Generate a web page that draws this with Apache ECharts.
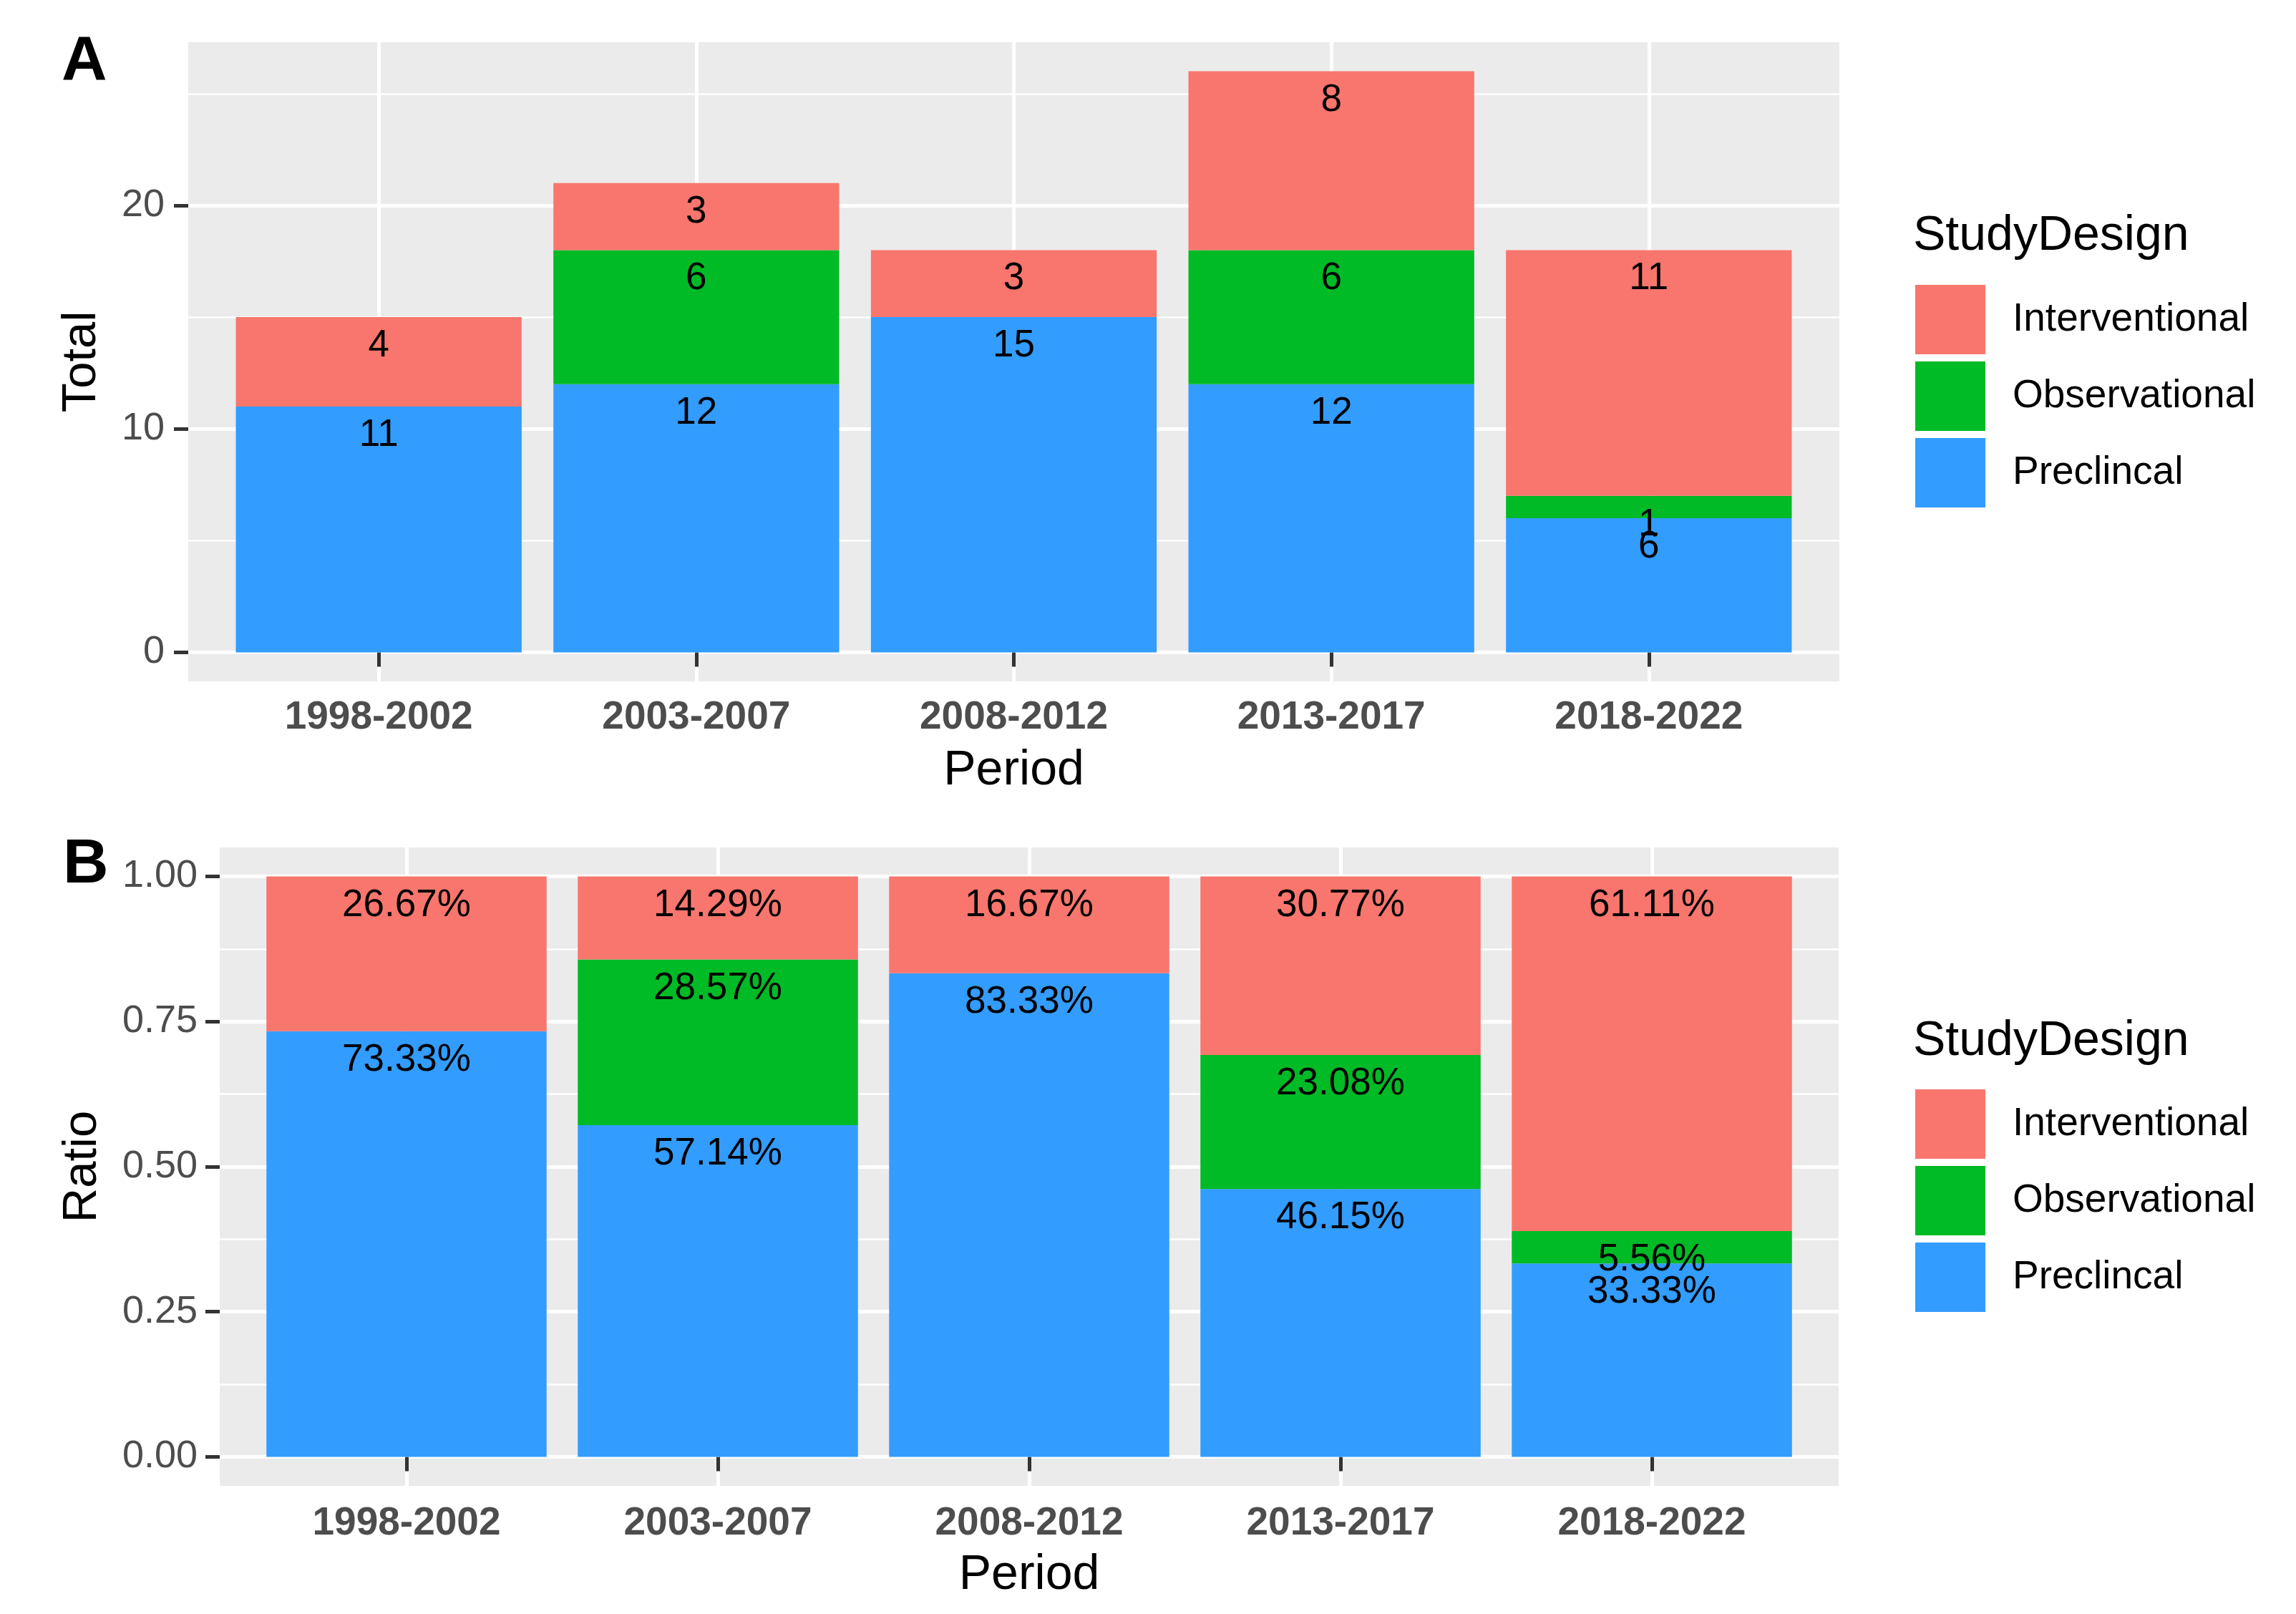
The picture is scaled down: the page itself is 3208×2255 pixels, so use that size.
<!DOCTYPE html>
<html>
<head>
<meta charset="utf-8">
<script src="https://cdn.jsdelivr.net/npm/echarts@6/dist/echarts.min.js"></script>
<style>
html,body{margin:0;padding:0;background:#fff;}
#chart{width:3208px;height:2255px;}
</style>
</head>
<body>
<div id="chart"></div>
<script>
// ---- data ----
const categories = ['1998-2002', '2003-2007', '2008-2012', '2013-2017', '2018-2022'];
const designNames = ['Interventional', 'Observational', 'Preclincal'];
const totalPreclinical = [11, 12, 15, 12, 6];
const totalObservational = [0, 6, 0, 6, 1];
const totalInterventional = [4, 3, 3, 8, 11];
const ratioPreclinical = [0.7333, 0.5714, 0.8333, 0.4615, 0.3333];
const ratioObservational = [0, 0.2857, 0, 0.2308, 0.0556];
const ratioInterventional = [0.2667, 0.1429, 0.1667, 0.3077, 0.6111];
const totalTicks = [0, 10, 20];
const totalMinorTicks = [5, 15, 25];
const ratioTicks = [0, 0.25, 0.5, 0.75, 1];
const ratioMinorTicks = [0.125, 0.375, 0.625, 0.875];
const categoryPositions = [1, 2, 3, 4, 5];

// ---- style ----
const FONT = "'Liberation Sans', Arial, Helvetica, sans-serif";
const colors = {Interventional: '#F8766D', Observational: '#00BA26', Preclincal: '#339CFF'};
const PANEL_BG = '#EBEBEB';

const panelA = {left: 263, top: 59, width: 2307, height: 893, min: -1.3, max: 27.3};
const panelB = {left: 307, top: 1184, width: 2262, height: 892, min: -0.05, max: 1.05};

function dataGrid(p) {
  const s = p.width / 5.2;
  return {left: p.left + 0.1 * s, top: p.top, width: 5 * s, height: p.height, show: false};
}

const chart = echarts.init(document.getElementById('chart'), null, {renderer: 'canvas'});

function bgXAxis(gridIndex) {
  return {
    type: 'value', gridIndex, min: 0.4, max: 5.6,
    axisLine: {show: false}, axisLabel: {show: false},
    axisTick: {show: false, customValues: categoryPositions},
    splitLine: {show: true, lineStyle: {color: '#FFFFFF', width: 5}}
  };
}
function bgYAxisMajor(gridIndex, p, ticks, fmt, name, nameGap, margin) {
  return {
    type: 'value', gridIndex, min: p.min, max: p.max, position: 'left',
    axisLine: {show: false},
    axisTick: {show: true, length: 20, customValues: ticks, lineStyle: {color: '#333333', width: 5}},
    axisLabel: {show: true, customValues: ticks, formatter: fmt, fontSize: 54, color: '#4D4D4D', fontFamily: FONT, margin},
    splitLine: {show: true, lineStyle: {color: '#FFFFFF', width: 5}},
    name, nameLocation: 'middle', nameGap,
    nameTextStyle: {fontSize: 67, color: '#000', fontFamily: FONT}
  };
}
function bgYAxisMinor(gridIndex, p, ticks) {
  return {
    type: 'value', gridIndex, min: p.min, max: p.max, position: 'right',
    axisLine: {show: false}, axisLabel: {show: false},
    axisTick: {show: false, customValues: ticks},
    splitLine: {show: true, lineStyle: {color: '#FFFFFF', width: 2.5}}
  };
}
function dataXAxis(gridIndex, margin) {
  return {
    type: 'category', gridIndex, data: categories,
    axisLine: {show: false},
    axisTick: {show: true, alignWithLabel: true, length: 20, lineStyle: {color: '#333333', width: 5}},
    axisLabel: {fontSize: 55, fontWeight: 'bold', color: '#4D4D4D', fontFamily: FONT, margin},
    splitLine: {show: false},
    name: 'Period', nameLocation: 'middle', nameGap: 91,
    nameTextStyle: {fontSize: 68, color: '#000', fontFamily: FONT}
  };
}
function dataYAxis(gridIndex, p) {
  return {
    type: 'value', gridIndex, min: p.min, max: p.max,
    axisLine: {show: false}, axisLabel: {show: false}, axisTick: {show: false}, splitLine: {show: false}
  };
}

function barSeries(name, values, xi, yi, fmt, stack) {
  return {
    type: 'bar', name, stack, data: values, xAxisIndex: xi, yAxisIndex: yi,
    barCategoryGap: '10%',
    itemStyle: {color: colors[name]},
    label: {
      show: true, position: 'insideTop', distance: 14,
      fontSize: 53, color: '#000', fontFamily: FONT,
      formatter: (p) => (p.value ? fmt(p.value) : '')
    },
    emphasis: {disabled: true}
  };
}

const countFmt = (v) => String(v);
const pctFmt = (v) => (v * 100).toFixed(2) + '%';

function legend(top) {
  return {
    orient: 'vertical', left: 2676, top, padding: 0,
    itemWidth: 98, itemHeight: 97, itemGap: 10, icon: 'rect',
    selectedMode: false,
    data: designNames,
    textStyle: {fontSize: 55, color: '#000', fontFamily: FONT, padding: [4, 0, 0, 33]}
  };
}

const option = {
  backgroundColor: '#FFFFFF',
  animation: false,
  title: [
    {text: 'A', left: 86, top: 43, padding: 0, textStyle: {fontSize: 88, fontWeight: 'bold', color: '#000', fontFamily: FONT}},
    {text: 'B', left: 88, top: 1165, padding: 0, textStyle: {fontSize: 88, fontWeight: 'bold', color: '#000', fontFamily: FONT}},
    {text: 'StudyDesign', left: 2673, top: 296, padding: 0, textStyle: {fontSize: 68, fontWeight: 'normal', color: '#000', fontFamily: FONT}},
    {text: 'StudyDesign', left: 2673, top: 1421, padding: 0, textStyle: {fontSize: 68, fontWeight: 'normal', color: '#000', fontFamily: FONT}}
  ],
  legend: [legend(398), legend(1522)],
  grid: [
    {left: panelA.left, top: panelA.top, width: panelA.width, height: panelA.height, show: true, backgroundColor: PANEL_BG, borderWidth: 0},
    dataGrid(panelA),
    {left: panelB.left, top: panelB.top, width: panelB.width, height: panelB.height, show: true, backgroundColor: PANEL_BG, borderWidth: 0},
    dataGrid(panelB)
  ],
  xAxis: [
    bgXAxis(0),
    dataXAxis(1, 23),
    bgXAxis(2),
    dataXAxis(3, 25)
  ],
  yAxis: [
    bgYAxisMajor(0, panelA, totalTicks, (v) => String(Math.round(v)), 'Total', 115, 33),
    bgYAxisMinor(0, panelA, totalMinorTicks),
    dataYAxis(1, panelA),
    bgYAxisMajor(2, panelB, ratioTicks, (v) => Number(v).toFixed(2), 'Ratio', 158, 31),
    bgYAxisMinor(2, panelB, ratioMinorTicks),
    dataYAxis(3, panelB)
  ],
  series: [
    barSeries('Preclincal', totalPreclinical, 1, 2, countFmt, 'A'),
    barSeries('Observational', totalObservational, 1, 2, countFmt, 'A'),
    barSeries('Interventional', totalInterventional, 1, 2, countFmt, 'A'),
    barSeries('Preclincal', ratioPreclinical, 3, 5, pctFmt, 'B'),
    barSeries('Observational', ratioObservational, 3, 5, pctFmt, 'B'),
    barSeries('Interventional', ratioInterventional, 3, 5, pctFmt, 'B')
  ]
};
chart.setOption(option);
</script>
</body>
</html>
